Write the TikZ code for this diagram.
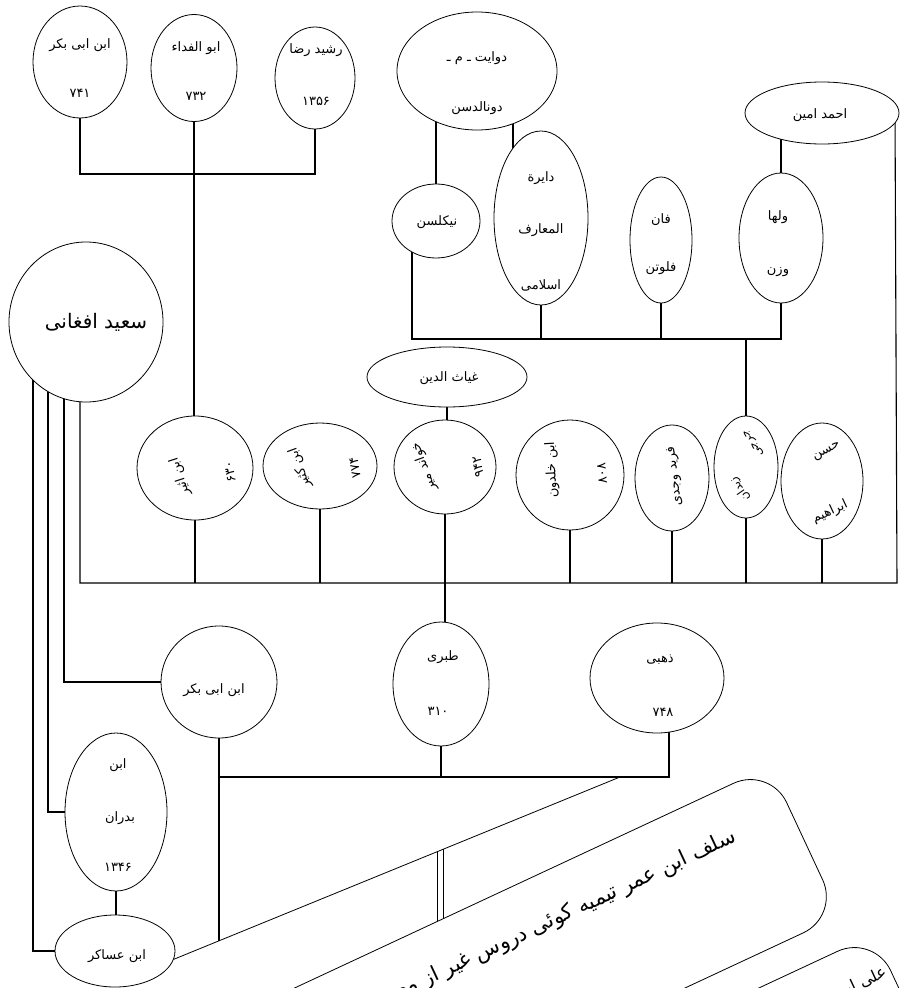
\documentclass[tikz,border=0pt]{standalone}
\usepackage{fontspec}
\newfontfamily\ur[Script=Arabic]{DejaVu Sans}
\TeXXeTstate=1
\usetikzlibrary{shapes.geometric,calc}
\pgfdeclarelayer{bg}
\pgfsetlayers{bg,main}
\newcommand\ud[1]{\hbox{#1}}
\begin{document}
\begin{tikzpicture}[x=1pt,y=-1pt,
  ell/.style={ellipse, draw, line width=0.8pt, fill=white, inner sep=0pt},
  conn/.style={line width=1.1pt},
  thin/.style={line width=0.8pt},
  lbl/.style={font=\ur\fontsize{13}{15}\selectfont, inner sep=0pt},
  rlbl/.style={font=\ur\fontsize{13}{15}\selectfont, inner sep=0pt},
  slbl/.style={font=\ur\fontsize{11.5}{13}\selectfont, inner sep=0pt},
  biglbl/.style={font=\ur\fontsize{20}{24}\selectfont, inner sep=0pt},
  bandbox/.style={draw, line width=0.8pt, fill=white, rounded corners=40pt, rotate=25, anchor=east, minimum width=900pt, minimum height=165pt},
  bandtxt/.style={font=\ur\fontsize{21}{25}\selectfont, inner sep=0pt, rotate=25, anchor=east},
]
\useasboundingbox (0,0) rectangle (901,988);
\clip (0,0) rectangle (901,988);

% ---------- top row ----------
\node[ell, minimum width=94pt, minimum height=112pt] (A1) at (80,62) {};
\node[lbl] (A1a) at (80,45) {\beginR ابن ابی بکر\endR};
\node[lbl] (A1b) at (80,93) {\ud{۷}\ud{۴}\ud{۱}};

\node[ell, minimum width=86pt, minimum height=107pt] (A2) at (194,68) {};
\node[lbl] (A2a) at (196,48) {\beginR ابو الفداء\endR};
\node[lbl] (A2b) at (196,96) {\ud{۷}\ud{۳}\ud{۲}};

\node[ell, minimum width=80pt, minimum height=102pt] (A3) at (315,78) {};
\node[lbl] (A3a) at (316,50) {\beginR رشید رضا\endR};
\node[lbl] (A3b) at (316,101) {\ud{۱}\ud{۳}\ud{۵}\ud{۶}};

\node[ell, minimum width=160pt, minimum height=118pt] (D) at (477,71) {};
\node[lbl] (Da) at (477,58) {\beginR دوایت ـ م ـ\endR};
\node[lbl] (Db) at (477,108) {\beginR دونالدسن\endR};

\node[ell, minimum width=88pt, minimum height=74pt] (N) at (436,221) {};
\node[lbl] (Na) at (437,222) {\beginR نیکلسن\endR};

\node[ell, minimum width=94pt, minimum height=174pt] (DA) at (541,218) {};
\node[lbl] (DAa) at (541,178) {\beginR دایرة\endR};
\node[lbl] (DAb) at (541,230) {\beginR المعارف\endR};
\node[lbl] (DAc) at (541,285) {\beginR اسلامی\endR};

\node[ell, minimum width=62pt, minimum height=126pt] (F) at (661,240) {};
\node[lbl] (Fa) at (661,220) {\beginR فان\endR};
\node[lbl] (Fb) at (661,268) {\beginR فلوتن\endR};

\node[ell, minimum width=154pt, minimum height=62pt] (AA) at (822,113) {};
\node[lbl] (AAa) at (820,115) {\beginR احمد امین\endR};

\node[ell, minimum width=84pt, minimum height=130pt] (W) at (781,238) {};
\node[lbl] (Wa) at (778,217) {\beginR ولها\endR};
\node[lbl] (Wb) at (778,272) {\beginR وزن\endR};

% ---------- middle ----------
\node[ell, minimum width=160pt, minimum height=60pt] (G) at (447,377) {};
\node[lbl] (Ga) at (449,378) {\beginR غیاث الدین\endR};

\node[ell, minimum width=154pt, minimum height=160pt] (S) at (86,322) {};
\node[biglbl] (Sa) at (96,322) {\beginR سعید افغانی\endR};

\node[ell, minimum width=116pt, minimum height=104pt] (B1) at (195,468) {};
\node[rlbl, rotate=108] (B1a) at (180,477) {\beginR ابن اثیر\endR};
\node[rlbl, rotate=100] (B1b) at (230,472) {\ud{۶}\ud{۳}\ud{۰}};

\node[ell, minimum width=114pt, minimum height=86pt] (B2) at (320,466) {};
\node[rlbl, rotate=110] (B2a) at (300,468) {\beginR ابن کثیر\endR};
\node[rlbl, rotate=100] (B2b) at (355,468) {\ud{۷}\ud{۷}\ud{۴}};

\node[ell, minimum width=102pt, minimum height=94pt] (K) at (445,467) {};
\node[rlbl, rotate=110] (Ka) at (424,467) {\beginR خواند میر\endR};
\node[rlbl, rotate=100] (Kb) at (478,467) {\ud{۹}\ud{۴}\ud{۲}};

\node[ell, minimum width=108pt, minimum height=110pt] (B4) at (570,475) {};
\node[rlbl, rotate=93] (B4a) at (552,470) {\beginR ابن خلدون\endR};
\node[rlbl, rotate=95] (B4b) at (602,473) {\ud{۸}\ud{۰}\ud{۸}};

\node[ell, minimum width=74pt, minimum height=106pt] (B5) at (672,478) {};
\node[rlbl, rotate=97] (B5a) at (675,476) {\beginR فرید وجدی\endR};

\node[ell, minimum width=64pt, minimum height=102pt] (B6) at (746,467) {};
\node[slbl, rotate=125] (B6a) at (754,443) {\beginR جرجی\endR};
\node[slbl, rotate=125] (B6b) at (740,489) {\beginR زیدان\endR};

\node[ell, minimum width=82pt, minimum height=116pt] (B7) at (822,481) {};
\node[lbl, rotate=28] (B7a) at (827,452) {\beginR حسن\endR};
\node[lbl, rotate=25] (B7b) at (830,512) {\beginR ابراهیم\endR};

% ---------- lower ----------
\node[ell, minimum width=116pt, minimum height=112pt] (L1) at (219,682) {};
\node[lbl] (L1a) at (214,690) {\beginR ابن ابی بکر\endR};

\node[ell, minimum width=96pt, minimum height=124pt] (T) at (441,684) {};
\node[lbl] (Ta) at (443,657) {\beginR طبری\endR};
\node[lbl] (Tb) at (438,711) {\ud{۳}\ud{۱}\ud{۰}};

\node[ell, minimum width=134pt, minimum height=110pt] (Z) at (657,678) {};
\node[lbl] (Za) at (660,660) {\beginR ذهبی\endR};
\node[lbl] (Zb) at (663,712) {\ud{۷}\ud{۴}\ud{۸}};

\node[ell, minimum width=102pt, minimum height=158pt] (BD) at (116,812) {};
\node[lbl] (BDa) at (118,765) {\beginR ابن\endR};
\node[lbl] (BDb) at (120,818) {\beginR بدران\endR};
\node[lbl] (BDc) at (118,867) {\ud{۱}\ud{۳}\ud{۴}\ud{۶}};

\node[ell, minimum width=120pt, minimum height=72pt] (IA) at (115,951) {};
\node[lbl] (IAa) at (117,956) {\beginR ابن عساکر\endR};

% ---------- rotated boxes ----------
\node[bandbox] (box1) at (805,841) {};
\node[bandtxt] (box1t) at (735,836) {\beginR سلف ابن عمر تیمیه کوئی دروس غیر از معه\endR};
\node[bandbox] (box2) at (909,1009) {};
\node[bandtxt, font=\ur\fontsize{16}{20}\selectfont] (box2t) at (886,972) {\beginR علی ابن\endR};

% ---------- junction coordinates ----------
\coordinate (jA) at (194,174);
\coordinate (jU) at (746,339);
\coordinate (barR) at (897,583);
\coordinate (jL) at (669,777);
\coordinate (bandEnd) at (620,777);
\coordinate (nBot) at ([xshift=-24pt]N.center);
\coordinate (daTop) at ([xshift=-28pt]DA.center);
\coordinate (aaR) at ([xshift=73pt]AA.center);
\coordinate (sA) at ([xshift=-6pt]S.center);
\coordinate (s1) at ([xshift=-53pt]S.center);
\coordinate (s2) at ([xshift=-38pt]S.center);
\coordinate (s3) at ([xshift=-22pt]S.center);
\coordinate (zB) at ([xshift=12pt]Z.center);
\coordinate (bj) at ($(IA.-8)!0.102!(bandEnd)$);
\coordinate (dl1) at ($(IA.-8)!0.590!(bandEnd)$);
\coordinate (dl2) at ($(IA.-8)!0.604!(bandEnd)$);

% ---------- connectors ----------
\begin{pgfonlayer}{bg}
\fill[white] (0,0) rectangle (901,988);
\clip (0,0) rectangle (901,988);
\draw[conn] (A1) |- (jA) -| (A3);
\draw[conn] (A2) -- (A2 |- B1);
\draw[conn] (N) -- (N |- D);
\draw[conn] (daTop) -- (daTop |- D);
\draw[conn] (W) -- (W |- AA);
\draw[conn] (nBot) |- (jU) -| (W);
\draw[conn] (DA) -- (DA |- jU);
\draw[conn] (F) -- (F |- jU);
\draw[conn] (jU) -- (B6);
\draw[conn] (G) -- (G |- K);
\draw[conn] (sA) |- (barR) -- (aaR);
\foreach \n in {B1,B2,K,B4,B5,B6,B7} \draw[conn] (\n) -- (\n |- barR);
\draw[conn] (K) -- (K |- T);
\draw[conn] (s3) |- (L1);
\draw[conn] (s2) |- (BD);
\draw[conn] (s1) |- (IA);
\draw[conn] (BD) -- (BD |- IA);
\draw[conn] (L1) -- (L1 |- bj);
\draw[conn] (L1 |- jL) -| (zB);
\draw[conn] (T) -- (T |- jL);
\draw[thin] (IA.-8) -- (bandEnd);
\draw[thin] (dl1) -- (dl1 |- box1.center);
\draw[thin] (dl2) -- (dl2 |- box1.center);
\end{pgfonlayer}
\end{tikzpicture}
\end{document}
